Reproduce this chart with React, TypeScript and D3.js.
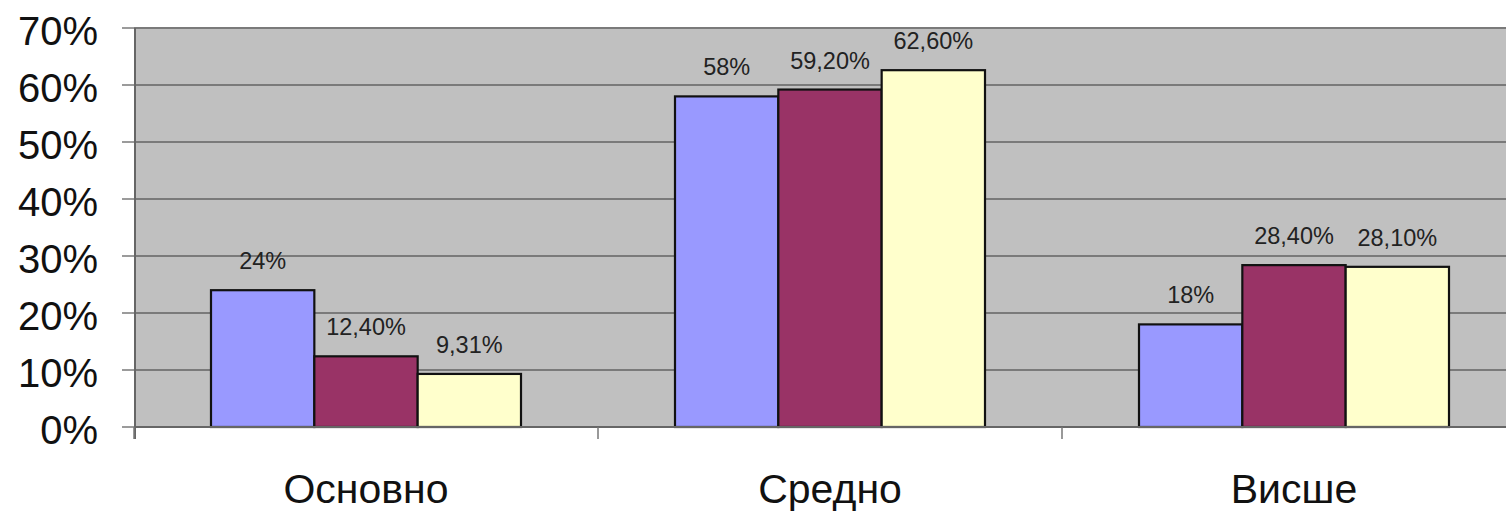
import React from "react";
import * as d3 from "d3";

const categories = ["Основно", "Средно", "Висше"];
const seriesNames = ["s1", "s2", "s3"];
const seriesA = [24, 58, 18];
const seriesB = [12.4, 59.2, 28.4];
const seriesC = [9.31, 62.6, 28.1];
const labelsA = ["24%", "58%", "18%"];
const labelsB = ["12,40%", "59,20%", "28,40%"];
const labelsC = ["9,31%", "62,60%", "28,10%"];
const yTicks = [0, 10, 20, 30, 40, 50, 60, 70];

const colors = ["#9999ff", "#993366", "#ffffcc"];

const W = 1506;
const H = 512;
const left = 134;
const bandW = 464;
const top = 28;
const bottom = 427;

export default function App() {
  const x0 = d3
    .scaleBand<string>()
    .domain(categories)
    .range([left, left + bandW * categories.length]);
  const groupW = 310;
  const x1 = d3
    .scaleBand<string>()
    .domain(seriesNames)
    .range([(bandW - groupW) / 2, (bandW + groupW) / 2]);
  const y = d3.scaleLinear().domain([0, 70]).range([bottom, top]);

  const values = [seriesA, seriesB, seriesC];
  const labels = [labelsA, labelsB, labelsC];
  const font = "Liberation Sans, Arial, sans-serif";

  return (
    <svg
      width={W}
      height={H}
      style={{ position: "absolute", left: 0, top: 0, background: "#fff" }}
    >
      <rect x={left} y={top} width={W - left} height={bottom - top} fill="#c0c0c0" />
      {yTicks.map((t) => (
        <g key={t}>
          {t > 0 && (
            <line x1={left} x2={W} y1={y(t)} y2={y(t)} stroke="#7a7a7a" strokeWidth={2} />
          )}
          <line x1={122} x2={left} y1={y(t)} y2={y(t)} stroke="#7a7a7a" strokeWidth={1.5} />
          <text
            x={98}
            y={y(t) + 3}
            textAnchor="end"
            dominantBaseline="central"
            fontFamily={font}
            fontSize={40}
            fill="#111"
          >
            {t}%
          </text>
        </g>
      ))}
      {categories.map((c, ci) => (
        <g key={c} transform={`translate(${x0(c)},0)`}>
          {values.map((vals, si) => {
            const bx = x1(seriesNames[si])!;
            const bw = x1.bandwidth();
            return (
              <g key={si}>
                <rect
                  x={bx}
                  y={y(vals[ci])}
                  width={bw}
                  height={bottom - y(vals[ci])}
                  fill={colors[si]}
                  stroke="#111"
                  strokeWidth={2.2}
                />
                <text
                  x={bx + bw / 2}
                  y={y(vals[ci]) - 21}
                  textAnchor="middle"
                  fontFamily={font}
                  fontSize={23.5}
                  fill="#222"
                >
                  {labels[si][ci]}
                </text>
              </g>
            );
          })}
          <text
            x={bandW / 2}
            y={503}
            textAnchor="middle"
            fontFamily={font}
            fontSize={41}
            fill="#111"
          >
            {c}
          </text>
        </g>
      ))}
      <line x1={left} x2={W} y1={bottom} y2={bottom} stroke="#666" strokeWidth={2} />
      <line x1={left + 1} x2={left + 1} y1={top} y2={439} stroke="#666" strokeWidth={2} />
      {categories.map((c) => (
        <line
          key={c}
          x1={x0(c)!}
          x2={x0(c)!}
          y1={bottom}
          y2={439}
          stroke="#777"
          strokeWidth={1.5}
        />
      ))}
    </svg>
  );
}
